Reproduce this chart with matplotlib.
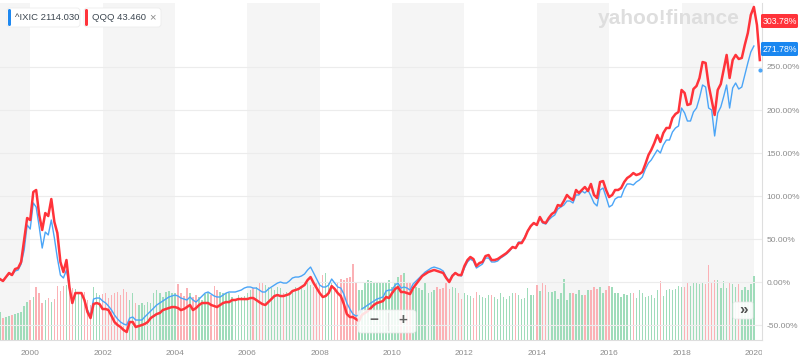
import numpy as np
import pandas as pd
import matplotlib
matplotlib.use("Agg")
import matplotlib.pyplot as plt
from matplotlib.patches import FancyBboxPatch
from matplotlib.transforms import Bbox, TransformedBbox

plt.rcParams['font.family'] = ['Liberation Sans', 'DejaVu Sans']

# monthly % change since Mar 1999
qqq = [3.5, 1.2, 5.8, 10.5, 8.1, 15.1, 16.3, 23.3, 48.8, 74.4, 72.1, 104.7,
       107.0, 77.9, 60.5, 80.2, 76.7, 96.5, 69.8, 57.0, 23.3, 11.6, 25.6, -7.0,
       -24.4, -12.8, -12.8, -12.8, -20.9, -34.9, -41.9, -25.6, -24.4, -25.6, -31.4, -31.4,
       -32.6, -39.5, -46.5, -50.0, -52.3, -55.8, -58.1, -46.5, -46.5, -52.3, -51.2, -50.0,
       -48.8, -46.5, -41.9, -39.5, -37.2, -36.0, -32.6, -31.4, -30.2, -29.1, -29.1, -30.2,
       -32.6, -31.4, -29.1, -26.7, -32.6, -30.2, -26.7, -24.4, -24.4, -24.4, -26.7, -27.9,
       -29.1, -26.7, -24.4, -23.3, -23.3, -20.9, -20.9, -19.8, -19.8, -19.8, -19.8, -18.6,
       -18.6, -20.9, -23.3, -25.6, -26.7, -23.3, -19.8, -16.3, -15.1, -16.3, -16.3, -15.1,
       -14.0, -10.5, -9.3, -8.1, -5.8, -3.5, 2.3, 5.8, -1.2, -7.0, -12.8, -17.4,
       -16.3, -12.8, -4.7, -8.1, -12.8, -16.3, -25.6, -37.2, -40.7, -40.7, -43.0, -45.3,
       -38.4, -36.0, -33.7, -30.2, -26.7, -24.4, -23.3, -22.1, -17.4, -18.6, -12.8, -8.1,
       -5.8, -11.6, -11.6, -12.8, -14.0, -7.0, -2.3, 2.3, 7.0, 9.3, 11.6, 12.8,
       14.0, 12.8, 11.6, 10.5, 4.7, 0.0, 7.0, 10.5, 8.1, 8.1, 18.6, 25.6,
       29.1, 26.7, 18.6, 22.1, 23.3, 30.2, 31.4, 25.6, 25.6, 26.7, 29.1, 31.4,
       33.7, 37.2, 40.7, 39.5, 45.3, 45.3, 51.2, 59.3, 65.1, 68.6, 66.3, 75.6,
       69.8, 68.6, 74.4, 79.1, 81.4, 89.5, 88.4, 94.2, 101.2, 97.7, 95.3, 107.0,
       103.5, 107.0, 110.5, 105.8, 114.0, 101.2, 97.7, 116.3, 117.4, 107.0, 98.8, 101.2,
       107.0, 107.0, 109.3, 116.3, 120.9, 123.3, 126.7, 124.4, 125.6, 127.9, 137.2, 147.7,
       153.5, 161.6, 170.9, 162.8, 173.3, 179.1, 179.1, 190.7, 195.4, 197.7, 223.3, 219.8,
       205.8, 207.0, 224.4, 227.9, 237.2, 255.8, 254.7, 229.1, 211.6, 194.2, 223.3, 230.2,
       246.5, 264.0, 237.2, 258.1, 264.0, 259.3, 260.5, 275.6, 289.5, 310.5, 319.8, 298.8,
       258.1]

ixic = [3.5, 1.2, 5.8, 9.3, 8.1, 12.8, 14.0, 20.9, 37.2, 66.3, 61.6, 91.9,
        87.2, 64.0, 39.5, 58.1, 54.7, 72.1, 51.2, 27.9, 8.1, 4.7, 14.0, -7.0,
        -24.4, -12.8, -12.8, -12.8, -20.9, -32.6, -39.5, -19.8, -18.6, -18.6, -22.1, -24.4,
        -27.9, -32.6, -38.4, -43.0, -46.5, -48.8, -50.0, -41.9, -40.7, -44.2, -44.2, -44.2,
        -40.7, -37.2, -33.7, -30.2, -26.7, -24.4, -22.1, -19.8, -17.4, -16.3, -15.1, -16.3,
        -18.6, -19.8, -20.9, -17.4, -20.9, -23.3, -19.8, -16.3, -12.8, -11.6, -14.0, -16.3,
        -17.4, -17.4, -15.1, -12.8, -11.6, -11.6, -11.6, -10.5, -9.3, -7.0, -5.8, -5.8,
        -7.0, -7.0, -9.3, -11.6, -11.6, -8.1, -5.8, -3.5, -1.2, 0.0, -1.2, -1.2,
        1.2, 4.7, 5.8, 5.8, 7.0, 9.3, 14.0, 17.4, 10.5, 3.5, -3.5, -5.8,
        -5.8, -3.5, 3.5, -1.2, -5.8, -7.0, -14.0, -24.4, -31.4, -37.2, -39.5, -38.4,
        -31.4, -29.1, -26.7, -24.4, -22.1, -19.8, -18.6, -17.4, -10.5, -9.3, -9.3, -3.5,
        -1.2, -7.0, -5.8, -7.0, -9.3, -2.3, 1.2, 4.7, 8.1, 11.6, 14.0, 16.3,
        17.4, 16.3, 15.1, 12.8, 5.8, 1.2, 8.1, 10.5, 8.1, 7.0, 16.3, 23.3,
        26.7, 24.4, 16.3, 18.6, 20.9, 27.9, 27.9, 23.3, 23.3, 24.4, 27.9, 30.2,
        32.6, 36.0, 40.7, 39.5, 46.5, 46.5, 52.3, 59.3, 65.1, 68.6, 66.3, 74.4,
        68.6, 67.4, 72.1, 75.6, 77.9, 84.9, 87.2, 89.5, 94.2, 94.2, 91.9, 101.2,
        101.2, 105.8, 103.5, 107.0, 100.0, 91.9, 88.4, 107.0, 109.3, 98.8, 87.2, 89.5,
        96.5, 98.8, 98.8, 108.1, 114.0, 114.0, 112.8, 116.3, 118.6, 122.1, 131.4, 138.4,
        141.9, 147.7, 153.5, 150.0, 159.3, 165.1, 165.1, 174.4, 179.1, 181.4, 202.3, 196.5,
        187.2, 187.2, 197.7, 202.3, 214.0, 229.1, 226.7, 202.3, 200.0, 169.8, 196.5, 203.5,
        215.1, 229.1, 202.3, 225.6, 231.4, 224.4, 226.7, 240.7, 254.7, 267.4, 274.4]
ixic_last = 246.5

# monthly volume (relative units)
vol = [28, 22, 23, 24, 25, 26, 27, 28, 34, 38, 40, 43, 53, 47, 37, 40, 42, 38, 41, 54,
       49, 54, 55, 48, 52, 51, 48, 47, 48, 40, 35, 53, 47, 45, 46, 47, 42, 45, 47, 48,
       45, 51, 48, 40, 47, 37, 35, 37, 35, 38, 37, 47, 50, 47, 43, 48, 49, 47, 47, 56,
       47, 44, 52, 47, 43, 45, 43, 40, 46, 47, 45, 54, 50, 48, 47, 47, 47, 43, 40, 45,
       43, 44, 47, 50, 52, 53, 58, 57, 55, 53, 52, 50, 53, 52, 47, 48, 47, 48, 53, 52,
       53, 50, 57, 55, 53, 58, 57, 65, 67, 58, 57, 53, 58, 61, 60, 62, 63, 76, 57, 50,
       50, 58, 60, 59, 58, 57, 58, 57, 58, 60, 53, 57, 63, 65, 67,
       58, 57, 50, 53, 52, 50, 58, 47, 48, 50, 53, 51, 52, 58, 51, 53, 52, 47, 41, 47,
       45, 44, 42, 48, 45, 43, 42, 45, 45, 43, 41, 47, 43, 41, 44, 47, 47, 45, 41, 42,
       52, 45, 45, 55, 49, 57, 55, 48, 48, 49, 41, 47, 61, 40, 47, 47, 46, 50, 45, 45,
       50, 50, 53, 51, 53, 47, 50, 54, 53, 47, 47, 43, 46, 45, 47, 47, 42, 50, 47, 43,
       44, 45, 42, 50, 59, 44, 50, 51, 50, 51, 54, 53, 53, 58, 54, 57, 58, 56, 57, 56,
       75, 58, 60, 60, 52, 59, 52, 57, 56, 53, 56, 50, 53, 50, 56, 64]

months = pd.date_range('1999-03-01', periods=len(qqq), freq='MS')
yticks = [-50, 0, 50, 100, 150, 200, 250]
years = list(range(2000, 2021, 2))

W, H = 800, 363
fig = plt.figure(figsize=(W / 100, H / 100), dpi=100)
rect = [0, 23 / H, 762 / W, 337 / H]
vax = fig.add_axes(rect)
ax = fig.add_axes(rect, sharex=vax)
ax.patch.set_alpha(0)

x0, x1 = pd.Timestamp('1999-03-02'), pd.Timestamp('2020-03-23')

# shaded two-year bands
vax.axvspan(x0, pd.Timestamp('2000-01-01'), color='#f5f5f5', lw=0)
for y in range(2002, 2020, 4):
    vax.axvspan(pd.Timestamp(f'{y}-01-01'), pd.Timestamp(f'{y + 2}-01-01'), color='#f5f5f5', lw=0)

n = min(len(vol), len(ixic))
vcol = ['#9fdcba' if i == 0 or ixic[i] >= ixic[i - 1] else '#fbb1b5' for i in range(n)]
vax.bar(months[:n], vol[:n], width=15, color=vcol, lw=0)
vax.set_ylim(0, max(vol) * 4.45)
vax.set_xlim(x0, x1)
vax.axis('off')

for v in yticks:
    ax.axhline(v, color='#ececec', lw=0.8, zorder=0)
ax.plot(months[:len(ixic)], ixic, color='#4ba5f7', lw=1.0, zorder=3)
ax.plot(months[-1], ixic_last, 'o', ms=2, color='#4ba5f7', zorder=3)
ax.plot(months, qqq, color='#ff333a', lw=1.8, zorder=4)

ax.set_xlim(x0, x1)
ax.set_ylim(-67.4, 324.4)
ax.yaxis.tick_right()
ax.set_yticks(yticks)
ax.set_yticklabels([f'{v:.2f}%' for v in yticks])
ax.set_xticks([pd.Timestamp(f'{y}-01-01') for y in years])
ax.set_xticklabels([str(y) for y in years])
ax.tick_params(length=0, labelsize=6, labelcolor='#8c8c8c')
ax.tick_params(axis='y', pad=3)
ax.tick_params(axis='x', pad=7)
for s in ['left', 'top']:
    ax.spines[s].set_visible(False)
for s in ['right', 'bottom']:
    ax.spines[s].set_color('#dedede')
    ax.spines[s].set_linewidth(0.8)


def px(x, y):
    return x / W, 1 - y / H


def pill(x, y, w, h, fc, ec='none', alpha=1.0, r=3):
    bx, by = px(x, y + h)
    p = FancyBboxPatch((bx, by), w / W, h / H,
                       boxstyle=f'round,pad=0,rounding_size={r / W}',
                       transform=fig.transFigure, fc=fc, ec=ec, lw=0.6,
                       alpha=alpha, mutation_aspect=W / H)
    fig.add_artist(p)


# watermark
fig.text(*px(598, 18), 'yahoo!finance', fontsize=15, fontweight='bold',
         color='#dedede', va='center', ha='left')

# legend pills
pill(7, 8, 73, 19, 'white', '#ececec')
pill(8, 9, 3, 17, '#1e88f0', r=1.5)
fig.text(*px(15, 17.5), '^IXIC 2114.030', fontsize=6.8, color='#3c4650', va='center')
pill(84, 8, 77, 19, 'white', '#ececec')
pill(85, 9, 3, 17, '#ff333a', r=1.5)
fig.text(*px(92, 17.5), 'QQQ 43.460', fontsize=6.8, color='#3c4650', va='center')
fig.text(*px(152, 17.5), '×', fontsize=8, color='#8a8a8a', va='center', ha='center')

# last-value tags
pill(761, 14, 37, 14, '#ff333a', r=1.5)
fig.text(*px(779.5, 21), '303.78%', fontsize=6.3, color='white', va='center', ha='center')
pill(761, 42, 37, 14, '#1a87f0', r=1.5)
fig.text(*px(779.5, 49), '271.78%', fontsize=6.3, color='white', va='center', ha='center')

# zoom buttons
pill(358, 310, 58, 23, 'white', '#e6e6e6', alpha=0.85, r=3)
fig.add_artist(plt.Line2D([388 / W, 388 / W], [1 - 313 / H, 1 - 330 / H],
                          transform=fig.transFigure, color='#e2e2e2', lw=0.8))
fig.text(*px(374, 320), '−', fontsize=11, fontweight='bold', color='#606060', va='center', ha='center')
fig.text(*px(403, 320), '+', fontsize=11, fontweight='bold', color='#606060', va='center', ha='center')
pill(733, 302, 20, 17, 'white', '#e6e6e6', alpha=0.9, r=2)
fig.text(*px(743, 310), '»', fontsize=11, fontweight='bold', color='#505050', va='center', ha='center')

# the last year label is cut off at the plot's right edge
fig.canvas.draw()
clip = TransformedBbox(Bbox([[0, -1], [1, 1]]), ax.transAxes)
for t in ax.xaxis.get_major_ticks():
    t.label1.set_clip_on(True)
    t.label1.set_clip_box(clip)

fig.savefig('out.png', dpi=100)
